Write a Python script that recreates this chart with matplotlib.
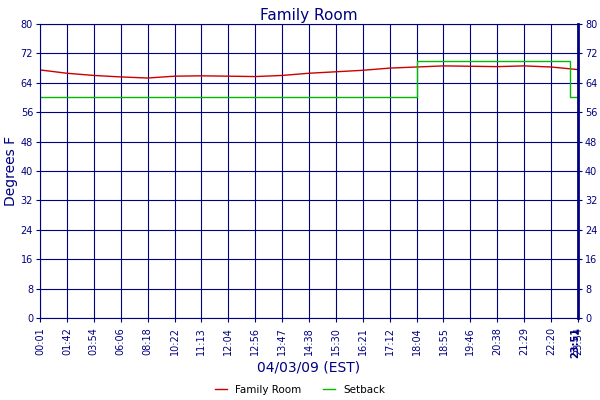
import numpy as np
import matplotlib.pyplot as plt

tick_labels = ['00:01', '01:42', '03:54', '06:06', '08:18', '10:22', '11:13', '12:04',
               '12:56', '13:47', '14:38', '15:30', '16:21', '17:12', '18:04', '18:55',
               '19:46', '20:38', '21:29', '22:20', '23:54']
room_temp = [67.5, 66.6, 66.0, 65.6, 65.3, 65.8, 65.9, 65.8, 65.7, 66.0, 66.6, 67.0,
             67.4, 68.0, 68.3, 68.6, 68.5, 68.4, 68.6, 68.3, 67.6]
setback_x = [0, 14, 14, 19.7, 19.7, 20]
setback_y = [60, 60, 70, 70, 60, 60]

navy = '#000080'
fig = plt.figure(figsize=(6, 4), dpi=100)
ax = fig.add_axes([0.0667, 0.205, 0.8966, 0.735])
x = np.arange(len(tick_labels))
ax.plot(x, room_temp, color='#cc0000', lw=1.0, label='Family Room')
ax.plot(setback_x, setback_y, color='#00bb00', lw=1.0, label='Setback')

ax.set_xlim(0, 20)
ax.set_ylim(0, 80)
ax.set_yticks(range(0, 81, 8))
ax.set_xticks(x)
ax.set_xticklabels(tick_labels, rotation=90, fontsize=7, color=navy)
ax.tick_params(axis='y', labelsize=7, labelcolor=navy, colors=navy, right=True,
               labelright=True, length=3, pad=2)
ax.tick_params(axis='x', colors=navy, length=3)
ax.grid(True, color=navy, lw=0.8)
for s in ax.spines.values():
    s.set_color(navy)
ax.spines['right'].set_linewidth(2)
ax.text(19.9, -2.5, '23:51', rotation=90, fontsize=7, color=navy, ha='center', va='top',
        fontweight='bold', clip_on=False)

ax.set_title('Family Room', color=navy, fontsize=11, pad=3)
ax.set_ylabel('Degrees F', color=navy, fontsize=10, labelpad=2)
ax.set_xlabel('04/03/09 (EST)', color=navy, fontsize=10, labelpad=4)
fig.legend(*ax.get_legend_handles_labels(), loc='center', bbox_to_anchor=(0.5, 0.025),
           ncol=2, frameon=False, fontsize=7.5, handlelength=1.2)
fig.savefig('out.png')
